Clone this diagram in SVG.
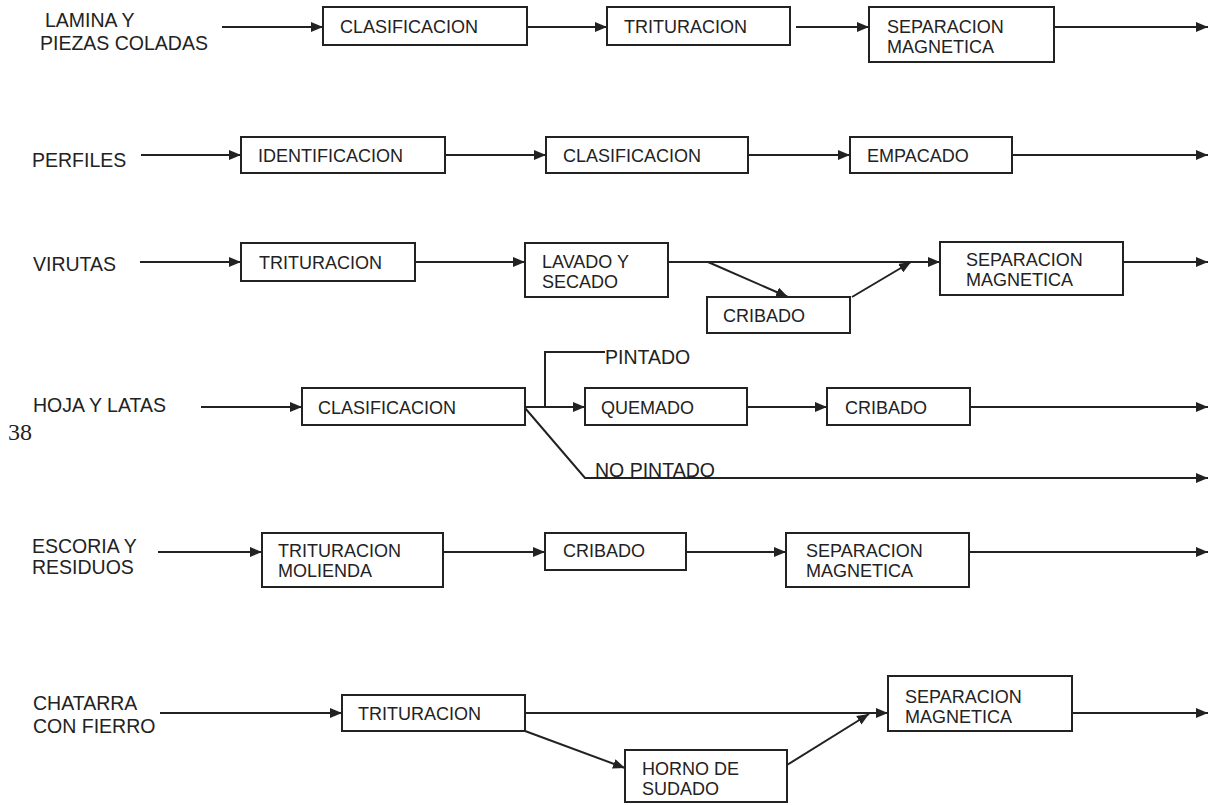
<svg xmlns="http://www.w3.org/2000/svg" width="1209" height="805" viewBox="0 0 1209 805">
  <style>
    .box { fill: #fff; stroke: #222; stroke-width: 2; }
    .t { font-family: "Liberation Sans", Arial, sans-serif; font-size: 18px; fill: #222; }
    .lbl { font-family: "Liberation Sans", Arial, sans-serif; font-size: 19.5px; fill: #222; }
    .ln { fill: none; stroke: #222; stroke-width: 2; }
    .arr { fill: none; stroke: #222; stroke-width: 2; marker-end: url(#ah); }
  </style>
  <defs>
    <marker id="ah" markerUnits="userSpaceOnUse" markerWidth="12" markerHeight="10" refX="12" refY="5" orient="auto">
      <path d="M0,0 L12,5 L0,10 z" fill="#222"/>
    </marker>
  </defs>
  <rect width="1209" height="805" fill="#fff"/>

  <!-- stray page number -->
  <text x="8" y="440" font-family="Liberation Serif, serif" font-size="24" fill="#222">38</text>

  <!-- source labels -->
  <g id="labels">
    <text class="lbl" x="45" y="27">LAMINA Y</text>
    <text class="lbl" x="40" y="50">PIEZAS COLADAS</text>
    <text class="lbl" x="32" y="167">PERFILES</text>
    <text class="lbl" x="33" y="271">VIRUTAS</text>
    <text class="lbl" x="33" y="412">HOJA Y LATAS</text>
    <text class="lbl" x="32" y="553">ESCORIA Y</text>
    <text class="lbl" x="32" y="574">RESIDUOS</text>
    <text class="lbl" x="33" y="710">CHATARRA</text>
    <text class="lbl" x="33" y="733">CON FIERRO</text>
    <text class="lbl" x="605" y="364">PINTADO</text>
    <text class="lbl" x="595" y="477">NO PINTADO</text>
  </g>

  <!-- connectors -->
  <g id="connectors">
    <!-- row 1 -->
    <line class="arr" x1="222" y1="27" x2="323" y2="27"/>
    <line class="arr" x1="527" y1="27" x2="607" y2="27"/>
    <line class="arr" x1="796" y1="27" x2="869" y2="27"/>
    <line class="arr" x1="1054" y1="27" x2="1208" y2="27"/>
    <!-- row 2 -->
    <line class="arr" x1="141" y1="155" x2="241" y2="155"/>
    <line class="arr" x1="445" y1="155" x2="546" y2="155"/>
    <line class="arr" x1="748" y1="155" x2="850" y2="155"/>
    <line class="arr" x1="1012" y1="155" x2="1208" y2="155"/>
    <!-- row 3 -->
    <line class="arr" x1="140" y1="262" x2="241" y2="262"/>
    <line class="arr" x1="415" y1="262" x2="525" y2="262"/>
    <line class="arr" x1="668" y1="262" x2="940" y2="262"/>
    <line class="arr" x1="708" y1="262" x2="788" y2="297"/>
    <line class="arr" x1="852" y1="297" x2="911" y2="262"/>
    <line class="arr" x1="1123" y1="262" x2="1208" y2="262"/>
    <!-- row 4 -->
    <line class="arr" x1="201" y1="407" x2="302" y2="407"/>
    <line class="arr" x1="525" y1="407" x2="585" y2="407"/>
    <polyline class="ln" points="545,407 545,352 605,352"/>
    <polyline class="arr" points="525,408 585,478 1208,478"/>
    <line class="arr" x1="747" y1="407" x2="827" y2="407"/>
    <line class="arr" x1="970" y1="407" x2="1208" y2="407"/>
    <!-- row 5 -->
    <line class="arr" x1="158" y1="552" x2="262" y2="552"/>
    <line class="arr" x1="443" y1="552" x2="545" y2="552"/>
    <line class="arr" x1="686" y1="552" x2="786" y2="552"/>
    <line class="arr" x1="969" y1="552" x2="1208" y2="552"/>
    <!-- row 6 -->
    <line class="arr" x1="160" y1="713" x2="342" y2="713"/>
    <line class="arr" x1="525" y1="713" x2="888" y2="713"/>
    <line class="arr" x1="525" y1="731" x2="625" y2="768"/>
    <line class="arr" x1="787" y1="765" x2="869" y2="714"/>
    <line class="arr" x1="1072" y1="713" x2="1208" y2="713"/>
  </g>

  <!-- row 1 -->
  <g id="r1-clasificacion"><rect class="box" x="323" y="7" width="204" height="38"/><text class="t" x="340" y="33">CLASIFICACION</text></g>
  <g id="r1-trituracion"><rect class="box" x="607" y="7" width="183" height="38"/><text class="t" x="624" y="33">TRITURACION</text></g>
  <g id="r1-separacion"><rect class="box" x="869" y="7" width="185" height="55"/><text class="t" x="887" y="33">SEPARACION</text><text class="t" x="887" y="53">MAGNETICA</text></g>

  <!-- row 2 -->
  <g id="r2-identificacion"><rect class="box" x="241" y="137" width="204" height="36"/><text class="t" x="258" y="162">IDENTIFICACION</text></g>
  <g id="r2-clasificacion"><rect class="box" x="546" y="137" width="202" height="36"/><text class="t" x="563" y="162">CLASIFICACION</text></g>
  <g id="r2-empacado"><rect class="box" x="850" y="137" width="162" height="36"/><text class="t" x="867" y="162">EMPACADO</text></g>

  <!-- row 3 -->
  <g id="r3-trituracion"><rect class="box" x="241" y="243" width="174" height="38"/><text class="t" x="259" y="269">TRITURACION</text></g>
  <g id="r3-lavado"><rect class="box" x="525" y="243" width="143" height="54"/><text class="t" x="542" y="268">LAVADO Y</text><text class="t" x="542" y="288">SECADO</text></g>
  <g id="r3-cribado"><rect class="box" x="707" y="297" width="143" height="36"/><text class="t" x="723" y="322">CRIBADO</text></g>
  <g id="r3-separacion"><rect class="box" x="940" y="242" width="183" height="53"/><text class="t" x="966" y="266">SEPARACION</text><text class="t" x="966" y="286">MAGNETICA</text></g>

  <!-- row 4 -->
  <g id="r4-clasificacion"><rect class="box" x="302" y="388" width="223" height="37"/><text class="t" x="318" y="414">CLASIFICACION</text></g>
  <g id="r4-quemado"><rect class="box" x="585" y="388" width="162" height="37"/><text class="t" x="601" y="414">QUEMADO</text></g>
  <g id="r4-cribado"><rect class="box" x="827" y="388" width="143" height="37"/><text class="t" x="845" y="414">CRIBADO</text></g>

  <!-- row 5 -->
  <g id="r5-trituracion"><rect class="box" x="262" y="533" width="181" height="54"/><text class="t" x="278" y="557">TRITURACION</text><text class="t" x="278" y="577">MOLIENDA</text></g>
  <g id="r5-cribado"><rect class="box" x="545" y="533" width="141" height="37"/><text class="t" x="563" y="557">CRIBADO</text></g>
  <g id="r5-separacion"><rect class="box" x="786" y="533" width="183" height="54"/><text class="t" x="806" y="557">SEPARACION</text><text class="t" x="806" y="577">MAGNETICA</text></g>

  <!-- row 6 -->
  <g id="r6-trituracion"><rect class="box" x="342" y="695" width="183" height="36"/><text class="t" x="358" y="720">TRITURACION</text></g>
  <g id="r6-horno"><rect class="box" x="625" y="750" width="162" height="52"/><text class="t" x="642" y="775">HORNO DE</text><text class="t" x="642" y="795">SUDADO</text></g>
  <g id="r6-separacion"><rect class="box" x="888" y="676" width="184" height="55"/><text class="t" x="905" y="703">SEPARACION</text><text class="t" x="905" y="723">MAGNETICA</text></g>
</svg>
